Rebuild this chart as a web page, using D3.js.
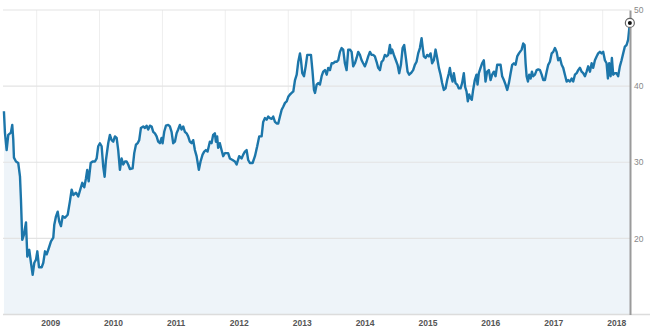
<!DOCTYPE html>
<html>
<head>
<meta charset="utf-8">
<script src="https://cdn.jsdelivr.net/npm/d3@7"></script>
<style>
  body { margin: 0; background: #fff; }
  svg { display: block; font-family: "Liberation Sans", Arial, sans-serif; }
</style>
</head>
<body>
<svg id="chart" width="650" height="333"></svg>
<script>
// Observation times as decimal years
const years = [
  2008.480, 2008.496, 2008.523, 2008.549, 2008.591, 2008.612, 2008.628, 2008.639, 2008.671, 2008.707,
  2008.735, 2008.750, 2008.771, 2008.798, 2008.830, 2008.851, 2008.882, 2008.909, 2008.936, 2008.962,
  2008.989, 2009.010, 2009.037, 2009.079, 2009.105, 2009.132, 2009.159, 2009.196, 2009.227, 2009.264,
  2009.280, 2009.307, 2009.334, 2009.359, 2009.386, 2009.413, 2009.450, 2009.493, 2009.529, 2009.556,
  2009.582, 2009.625, 2009.661, 2009.700, 2009.725, 2009.757, 2009.784, 2009.804, 2009.827, 2009.859,
  2009.890, 2009.927, 2009.954, 2009.979, 2010.006,
  2010.033, 2010.059, 2010.081, 2010.102, 2010.138, 2010.165, 2010.192, 2010.218, 2010.245, 2010.272,
  2010.297, 2010.324, 2010.351, 2010.377, 2010.404, 2010.431, 2010.456, 2010.483, 2010.526, 2010.552,
  2010.579, 2010.606, 2010.631, 2010.658, 2010.695, 2010.722, 2010.749, 2010.774, 2010.801, 2010.828,
  2010.854, 2010.881, 2010.908, 2010.933, 2010.960, 2010.987, 2011.003, 2011.029, 2011.056, 2011.092,
  2011.119, 2011.146, 2011.172, 2011.199, 2011.226, 2011.251, 2011.278, 2011.305, 2011.331, 2011.358,
  2011.385, 2011.410, 2011.437, 2011.464, 2011.490, 2011.517, 2011.544, 2011.580, 2011.607, 2011.639,
  2011.665, 2011.692, 2011.719, 2011.755, 2011.782, 2011.808, 2011.835,
  2011.851, 2011.871, 2011.887, 2011.914, 2011.941, 2011.967, 2011.994, 2012.046, 2012.073, 2012.116,
  2012.153, 2012.180, 2012.221, 2012.259, 2012.285, 2012.312, 2012.339, 2012.364, 2012.391, 2012.434,
  2012.471, 2012.507, 2012.539, 2012.577, 2012.602, 2012.630, 2012.657, 2012.682, 2012.709, 2012.736,
  2012.761, 2012.789, 2012.816, 2012.841, 2012.868, 2012.895, 2012.920, 2012.948, 2012.975, 2013.000,
  2013.027, 2013.054, 2013.080, 2013.107, 2013.134, 2013.159, 2013.186, 2013.202, 2013.223, 2013.250,
  2013.277, 2013.302, 2013.334, 2013.361,
  2013.385, 2013.409, 2013.425, 2013.452, 2013.477, 2013.504, 2013.531, 2013.556, 2013.584, 2013.611,
  2013.636, 2013.663, 2013.690, 2013.715, 2013.743, 2013.769, 2013.795, 2013.822, 2013.849, 2013.874,
  2013.901, 2013.928, 2013.954, 2013.981, 2014.008, 2014.033, 2014.060, 2014.087, 2014.113, 2014.140,
  2014.167, 2014.192, 2014.219, 2014.246, 2014.272, 2014.299, 2014.326, 2014.351, 2014.378, 2014.405,
  2014.431, 2014.458, 2014.485, 2014.510, 2014.537, 2014.564, 2014.590, 2014.617, 2014.633, 2014.653,
  2014.680, 2014.712, 2014.739, 2014.765, 2014.792, 2014.819, 2014.844, 2014.871, 2014.898, 2014.924,
  2014.951, 2014.987, 2015.014, 2015.041, 2015.067, 2015.094, 2015.121, 2015.137, 2015.157,
  2015.184, 2015.210, 2015.237, 2015.264, 2015.289, 2015.316, 2015.343, 2015.369, 2015.396, 2015.423,
  2015.448, 2015.475, 2015.502, 2015.528, 2015.555, 2015.571, 2015.591, 2015.614, 2015.634, 2015.661,
  2015.687, 2015.714, 2015.741, 2015.766, 2015.793, 2015.814, 2015.836, 2015.857, 2015.878, 2015.900,
  2015.920, 2015.941, 2015.968, 2015.995, 2016.011, 2016.032, 2016.059, 2016.084, 2016.111, 2016.138,
  2016.164, 2016.191, 2016.218, 2016.243, 2016.270, 2016.297, 2016.323, 2016.350, 2016.377, 2016.402,
  2016.429, 2016.456, 2016.482, 2016.509, 2016.536, 2016.561, 2016.588, 2016.615, 2016.641, 2016.668,
  2016.711, 2016.736, 2016.758, 2016.774, 2016.790, 2016.811, 2016.831, 2016.854, 2016.874, 2016.895,
  2016.922, 2016.949, 2016.975, 2017.002, 2017.029, 2017.054, 2017.081, 2017.108, 2017.133, 2017.160,
  2017.188, 2017.213, 2017.240, 2017.267, 2017.292, 2017.320, 2017.347, 2017.372, 2017.399, 2017.426,
  2017.451, 2017.479, 2017.506, 2017.531, 2017.558, 2017.585, 2017.610, 2017.638, 2017.665, 2017.690,
  2017.717, 2017.744, 2017.769, 2017.797, 2017.824, 2017.849, 2017.876, 2017.903, 2017.928, 2017.955,
  2017.982, 2018.008, 2018.035, 2018.062, 2018.083, 2018.103, 2018.126, 2018.146, 2018.167, 2018.194,
  2018.221, 2018.246, 2018.273, 2018.300, 2018.326, 2018.353, 2018.380, 2018.405, 2018.432
];

// Price at each observation
const prices = [
  36.7, 33.9, 31.6, 33.6, 33.9, 34.9, 33.0, 30.6, 30.1, 29.9,
  28.1, 25.1, 19.8, 20.5, 22.1, 17.6, 18.5, 16.8, 15.2, 16.8,
  17.2, 18.3, 16.2, 16.2, 16.8, 18.3, 17.9, 18.8, 19.6, 20.1,
  21.8, 22.9, 23.5, 22.2, 21.6, 22.9, 22.7, 23.1, 24.9, 26.4,
  25.7, 26.0, 25.5, 26.6, 27.3, 26.7, 27.9, 29.0, 27.5, 29.9,
  30.1, 30.1, 30.5, 32.1, 32.5,
  32.1, 29.4, 28.1, 30.3, 32.5, 33.6, 32.9, 32.7, 33.4, 33.2,
  31.6, 29.0, 30.5, 29.7, 30.1, 30.1, 29.7, 29.1, 29.2, 31.2,
  32.3, 32.5, 32.9, 34.5, 34.7, 34.5, 34.8, 34.3, 34.8, 34.7,
  34.0, 33.8, 33.4, 32.7, 32.5, 33.2, 32.5, 34.0, 34.8, 34.9,
  34.7, 34.0, 32.5, 32.7, 33.8, 34.3, 34.9, 34.3, 34.7, 34.0,
  33.8, 33.4, 32.7, 32.5, 32.9, 31.6, 30.8, 29.0, 30.1, 31.0,
  31.4, 31.6, 31.4, 32.7, 32.5, 33.6, 33.8,
  32.7, 33.4, 31.9, 32.5, 31.6, 30.8, 31.2, 31.2, 30.5, 30.3,
  30.1, 29.7, 30.8, 30.5, 31.0, 31.4, 31.6, 30.3, 29.9, 29.9,
  30.8, 32.1, 33.4, 33.4, 35.3, 35.8, 35.6, 36.0, 35.8, 35.7,
  36.0, 35.3, 35.1, 35.1, 36.0, 36.9, 37.3, 37.8, 38.0, 38.6,
  38.9, 39.1, 39.3, 40.8, 41.5, 43.2, 44.3, 43.4, 41.7, 41.3,
  42.6, 44.1, 44.1, 44.1,
  42.0, 39.5, 39.1, 40.2, 40.4, 40.2, 41.3, 41.9, 42.1, 41.5,
  42.4, 42.1, 43.0, 43.0, 43.2, 43.2, 43.4, 44.5, 45.0, 44.8,
  43.0, 42.1, 44.8, 44.8, 44.5, 42.6, 43.0, 43.7, 44.5, 44.1,
  43.4, 43.0, 42.6, 43.2, 43.9, 44.5, 44.1, 44.1, 43.9, 43.2,
  42.4, 42.1, 43.2, 43.4, 44.1, 43.9, 44.1, 45.4, 44.3, 44.8,
  44.1, 43.4, 42.8, 41.7, 42.8, 45.0, 45.4, 43.7, 41.9, 41.5,
  41.7, 42.1, 42.8, 43.2, 44.3, 45.0, 46.3, 45.2, 43.9,
  43.7, 44.1, 43.9, 44.3, 43.0, 43.4, 44.8, 43.7, 42.4, 41.5,
  40.4, 39.5, 39.7, 40.8, 41.7, 42.4, 41.3, 40.6, 41.7, 40.4,
  40.2, 39.7, 39.7, 40.4, 41.7, 39.9, 39.3, 38.0, 38.9, 38.4,
  38.2, 39.5, 40.8, 41.5, 40.2, 41.7, 42.4, 43.0, 43.4, 40.6,
  41.9, 42.1, 40.8, 41.5, 41.9, 41.3, 42.8, 42.8, 42.8, 41.3,
  40.8, 40.2, 39.5, 40.4, 41.7, 42.8, 43.0, 42.8, 43.9, 44.3,
  44.8, 45.6, 45.4, 43.0, 41.3, 40.6, 41.5, 41.0, 41.9, 41.3,
  41.5, 42.1, 42.2, 42.1, 41.5, 40.8, 40.8, 41.9, 42.8, 43.2,
  44.3, 44.5, 45.0, 44.5, 43.4, 43.7, 42.8, 42.4, 41.5, 40.6,
  40.8, 40.6, 41.0, 40.6, 41.5, 41.7, 42.1, 42.4, 41.9, 41.7,
  41.3, 41.9, 42.6, 41.9, 43.0, 42.4, 43.4, 43.9, 44.3, 44.5,
  44.3, 44.5, 43.4, 43.0, 41.0, 43.0, 41.3, 43.7, 41.5, 41.7,
  41.7, 41.3, 42.6, 43.4, 44.3, 45.2, 45.4, 46.1, 48.3
];

const yTickValues = [20, 30, 40, 50];
const xTickYears = [2009, 2010, 2011, 2012, 2013, 2014, 2015, 2016, 2017, 2018];

// decimal year -> Date
function toDate(y) {
  const yr = Math.floor(y);
  const a = new Date(yr, 0, 1), b = new Date(yr + 1, 0, 1);
  return new Date(+a + (y - yr) * (b - a));
}

const data = years.map((y, i) => ({ date: toDate(y), value: prices[i] }));

const svg = d3.select("#chart");
const W = 650;
const plotLeft = 3, plotRight = 630, axisBottomY = 314.5;

const x = d3.scaleTime()
  .domain([new Date(2009, 0, 1), new Date(2018, 0, 1)])
  .range([36.7, 602.7]);

const y = d3.scaleLinear()
  .domain([10, 50])
  .range([axisBottomY, 10]);

// vertical year gridlines
svg.append("g")
  .selectAll("line")
  .data(xTickYears)
  .join("line")
  .attr("x1", d => x(new Date(d, 0, 1)))
  .attr("x2", d => x(new Date(d, 0, 1)))
  .attr("y1", y(50))
  .attr("y2", y(10))
  .attr("stroke", "#eeeeee")
  .attr("stroke-width", 1);

// area fill under the price line
const area = d3.area()
  .x(d => x(d.date))
  .y0(y(10))
  .y1(d => y(d.value));

svg.append("path")
  .datum(data)
  .attr("d", area)
  .attr("fill", "#eef4f9");

// horizontal gridlines
svg.append("g")
  .selectAll("line")
  .data(yTickValues)
  .join("line")
  .attr("x1", plotLeft)
  .attr("x2", plotRight)
  .attr("y1", d => y(d))
  .attr("y2", d => y(d))
  .attr("stroke", "#e3e3e3")
  .attr("stroke-width", 1.2);

// bottom baseline
svg.append("line")
  .attr("x1", plotLeft)
  .attr("x2", W)
  .attr("y1", axisBottomY)
  .attr("y2", axisBottomY)
  .attr("stroke", "#dcdcdc")
  .attr("stroke-width", 1.5);

// price line
const line = d3.line()
  .x(d => x(d.date))
  .y(d => y(d.value));

svg.append("path")
  .datum(data)
  .attr("d", line)
  .attr("fill", "none")
  .attr("stroke", "#1c76aa")
  .attr("stroke-width", 2.4)
  .attr("stroke-linejoin", "round");

// right value axis
const yAxis = svg.append("g")
  .attr("transform", `translate(${plotRight},0)`)
  .call(d3.axisRight(y).tickValues(yTickValues).tickSize(0).tickSizeOuter(0).tickPadding(4));
yAxis.select(".domain").attr("stroke", "#9a9a9a").attr("stroke-width", 2);
yAxis.selectAll("text").attr("fill", "#888").attr("font-size", "8.5px");

// bottom year axis, labels start just right of each gridline
const xAxis = svg.append("g")
  .attr("transform", `translate(0,${axisBottomY})`)
  .call(d3.axisBottom(x)
    .tickValues(xTickYears.map(d => new Date(d, 0, 1)))
    .tickFormat(d3.timeFormat("%Y"))
    .tickSize(0)
    .tickPadding(5.5));
xAxis.select(".domain").remove();
xAxis.selectAll("text")
  .attr("text-anchor", "start")
  .attr("dx", 4)
  .attr("fill", "#555")
  .attr("font-size", "8.5px")
  .attr("font-weight", "bold");

// marker on the latest value
const last = data[data.length - 1];
svg.append("circle")
  .attr("cx", x(last.date))
  .attr("cy", y(last.value))
  .attr("r", 4.5)
  .attr("fill", "#fff")
  .attr("stroke", "#666")
  .attr("stroke-width", 1.2);
svg.append("circle")
  .attr("cx", x(last.date))
  .attr("cy", y(last.value))
  .attr("r", 2)
  .attr("fill", "#111");
</script>
</body>
</html>
